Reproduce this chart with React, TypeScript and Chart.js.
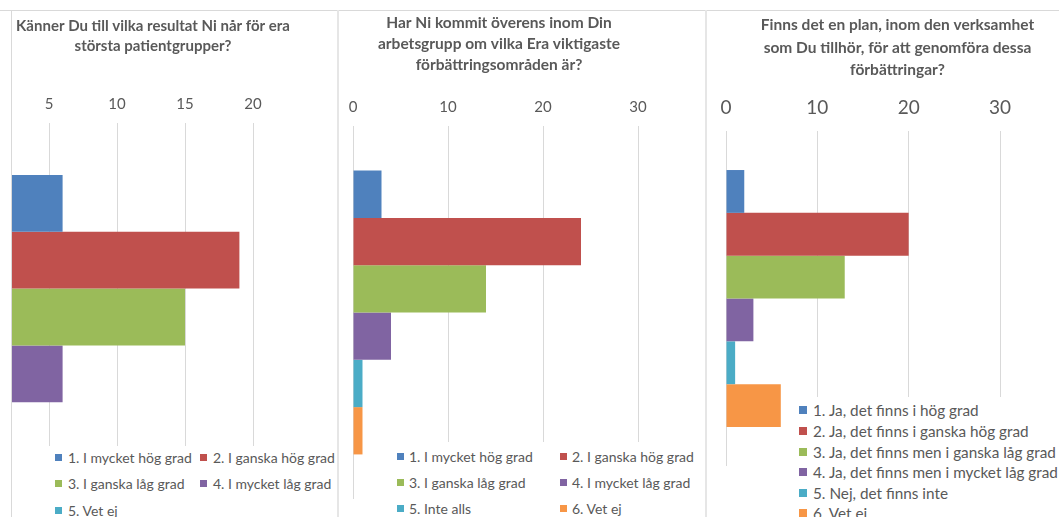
import React, { useEffect, useRef } from "react";
import { Chart, registerables } from "chart.js";

Chart.register(...registerables);

const seriesColors = ["#4F81BD", "#C0504D", "#9BBB59", "#8064A2", "#4BACC6", "#F79646"];

const q1Title = ["Känner Du till vilka resultat Ni når för era", "största patientgrupper?"];
const q1Categories = ["1. I mycket hög grad", "2. I ganska hög grad", "3. I ganska låg grad", "4. I mycket låg grad", "5. Vet ej"];
const q1Values = [6, 19, 15, 6, 0];
const q1Ticks = [0, 5, 10, 15, 20];

const q2Title = ["Har Ni kommit överens inom Din", "arbetsgrupp om vilka Era viktigaste", "förbättringsområden är?"];
const q2Categories = ["1. I mycket hög grad", "2. I ganska hög grad", "3. I ganska låg grad", "4. I mycket låg grad", "5. Inte alls", "6. Vet ej"];
const q2Values = [3, 24, 14, 4, 1, 1];
const q2Ticks = [0, 10, 20, 30];

const q3Title = ["Finns det en plan, inom den verksamhet", "som Du tillhör, för att genomföra dessa", "förbättringar?"];
const q3Categories = ["1. Ja, det finns i hög grad", "2. Ja, det finns i ganska hög grad", "3. Ja, det finns men i ganska låg grad", "4. Ja, det finns men i mycket låg grad", "5. Nej, det finns inte", "6. Vet ej"];
const q3Values = [2, 20, 13, 3, 1, 6];
const q3Ticks = [0, 10, 20, 30];

const FONT = "Lato, 'Liberation Sans', sans-serif";
const TEXT = "#595959";
const GRID = "#d9d9d9";
const TOP = 10;
const PAGE_H = 517;

type PanelProps = {
  clipLeft: number;
  clipWidth: number;
  canvasLeft: number;
  canvasWidth: number;
  leftAxisW: number;
  rightAxisW: number;
  title: string[];
  titleSize: number;
  titleLH: number;
  titlePadTop: number;
  tickSize: number;
  tickCenter: number;
  chartTop: number;
  chartBottom: number;
  catPct: number;
  categories: string[];
  values: number[];
  ticks: number[];
  legendBox: { left: number; top: number; right: number };
  legendCols: number[];
  legendRows: number[];
  legendSize: number;
  legendSquare: number;
  legendGap: number;
};

function Panel(p: PanelProps) {
  const ref = useRef<HTMLCanvasElement | null>(null);
  const canvasH = PAGE_H - TOP;

  useEffect(() => {
    const canvas = ref.current;
    if (!canvas) return;
    const titleH = p.titlePadTop + p.title.length * p.titleLH;
    // label is drawn centred half a line above the chart area (padding 0)
    const tickLH = 2 * (p.chartTop - p.tickCenter);
    const chart = new Chart(canvas, {
      type: "bar",
      data: {
        labels: [""],
        datasets: p.categories.map((c, i) => ({
          label: c,
          data: [p.values[i]],
          backgroundColor: seriesColors[i],
          borderWidth: 0,
          barPercentage: 1,
          categoryPercentage: p.catPct,
          xAxisID: "x",
          yAxisID: "y",
        })),
      },
      options: {
        indexAxis: "y",
        responsive: false,
        animation: false,
        devicePixelRatio: 1,
        layout: { padding: { top: 0, left: 0, right: 0, bottom: PAGE_H - p.chartBottom } },
        plugins: {
          legend: { display: false },
          tooltip: { enabled: false },
          title: {
            display: true,
            text: p.title,
            color: TEXT,
            font: { family: FONT, size: p.titleSize, weight: "bold", lineHeight: p.titleLH + "px" },
            padding: { top: p.titlePadTop, bottom: 0 },
          },
        },
        scales: {
          x: {
            type: "linear",
            position: "top",
            min: p.ticks[0],
            max: p.ticks[p.ticks.length - 1],
            afterBuildTicks: (s: any) => {
              s.ticks = p.ticks.map((v) => ({ value: v }));
            },
            afterFit: (s: any) => {
              s.height = p.chartTop - TOP - titleH;
            },
            grid: { color: GRID, drawTicks: false, lineWidth: 1 },
            border: { display: false },
            ticks: {
              color: TEXT,
              padding: 0,
              font: { family: FONT, size: p.tickSize, lineHeight: tickLH + "px" },
            },
          },
          y: {
            type: "category",
            grid: { display: false },
            ticks: { display: false },
            border: { display: false },
            afterFit: (s: any) => {
              s.width = p.leftAxisW;
            },
          },
          y2: {
            type: "linear",
            position: "right",
            grid: { display: false },
            ticks: { display: false },
            border: { display: false },
            afterFit: (s: any) => {
              s.width = p.rightAxisW;
            },
          },
        },
      } as any,
    });
    return () => chart.destroy();
  }, []);

  const lh = Math.round(p.legendSize * 1.3);
  const nCols = p.legendCols.length;

  return (
    <div
      style={{
        position: "absolute",
        left: p.clipLeft,
        top: TOP,
        width: p.clipWidth,
        height: canvasH,
        overflow: "hidden",
      }}
    >
      <canvas
        ref={ref}
        width={p.canvasWidth}
        height={canvasH}
        style={{ position: "absolute", left: p.canvasLeft - p.clipLeft, top: 0, width: p.canvasWidth, height: canvasH }}
      />
      <div
        style={{
          position: "absolute",
          left: p.legendBox.left - p.clipLeft,
          top: p.legendBox.top - TOP,
          width: p.legendBox.right - p.legendBox.left,
          height: PAGE_H - p.legendBox.top,
          background: "#fff",
        }}
      />
      {p.categories.map((c, i) => {
        const x = p.legendCols[i % nCols];
        const y = p.legendRows[Math.floor(i / nCols)];
        return (
          <div
            key={c}
            style={{
              position: "absolute",
              left: x - p.clipLeft,
              top: y - TOP - lh / 2,
              height: lh,
              display: "flex",
              alignItems: "center",
              whiteSpace: "nowrap",
              fontFamily: FONT,
              fontSize: p.legendSize,
              color: TEXT,
            }}
          >
            <span
              style={{
                display: "inline-block",
                width: p.legendSquare,
                height: p.legendSquare,
                background: seriesColors[i],
                marginRight: p.legendGap,
                flex: "none",
              }}
            />
            {c}
          </div>
        );
      })}
    </div>
  );
}

export default function App() {
  return (
    <div
      style={{
        position: "absolute",
        left: 0,
        top: 0,
        width: 1059,
        height: PAGE_H,
        background: "#fff",
        overflow: "hidden",
      }}
    >
      <Panel
        clipLeft={11}
        clipWidth={327}
        canvasLeft={-25}
        canvasWidth={356}
        leftAxisW={6}
        rightAxisW={78}
        title={q1Title}
        titleSize={15}
        titleLH={20}
        titlePadTop={6}
        tickSize={15}
        tickCenter={104}
        chartTop={123}
        chartBottom={511}
        catPct={0.732}
        categories={q1Categories}
        values={q1Values}
        ticks={q1Ticks}
        legendBox={{ left: 40, top: 446, right: 337 }}
        legendCols={[55, 200]}
        legendRows={[457, 483, 510]}
        legendSize={14}
        legendSquare={7}
        legendGap={6}
      />
      <Panel
        clipLeft={339}
        clipWidth={367}
        canvasLeft={347}
        canvasWidth={304}
        leftAxisW={6}
        rightAxisW={13}
        title={q2Title}
        titleSize={15.5}
        titleLH={21}
        titlePadTop={2}
        tickSize={15}
        tickCenter={107.5}
        chartTop={126}
        chartBottom={499}
        catPct={0.761}
        categories={q2Categories}
        values={q2Values}
        ticks={q2Ticks}
        legendBox={{ left: 385, top: 442, right: 702 }}
        legendCols={[397, 560]}
        legendRows={[456, 482, 508]}
        legendSize={14}
        legendSquare={7}
        legendGap={5}
      />
      <Panel
        clipLeft={707}
        clipWidth={352}
        canvasLeft={720}
        canvasWidth={355}
        leftAxisW={6}
        rightAxisW={75}
        title={q3Title}
        titleSize={15.5}
        titleLH={22.5}
        titlePadTop={3.75}
        tickSize={19}
        tickCenter={108}
        chartTop={131}
        chartBottom={466}
        catPct={0.767}
        categories={q3Categories}
        values={q3Values}
        ticks={q3Ticks}
        legendBox={{ left: 790, top: 397, right: 1059 }}
        legendCols={[799]}
        legendRows={[410, 431, 452, 472, 493, 513]}
        legendSize={15.3}
        legendSquare={8}
        legendGap={6}
      />
      <div style={{ position: "absolute", left: 0, top: TOP, width: 1059, height: 1, background: GRID }} />
      <div style={{ position: "absolute", left: 11, top: TOP, width: 1, height: PAGE_H - TOP, background: GRID }} />
      <div style={{ position: "absolute", left: 337, top: TOP, width: 2, height: PAGE_H - TOP, background: "#e6e6e6" }} />
      <div style={{ position: "absolute", left: 705, top: TOP, width: 2, height: PAGE_H - TOP, background: "#e6e6e6" }} />
    </div>
  );
}
